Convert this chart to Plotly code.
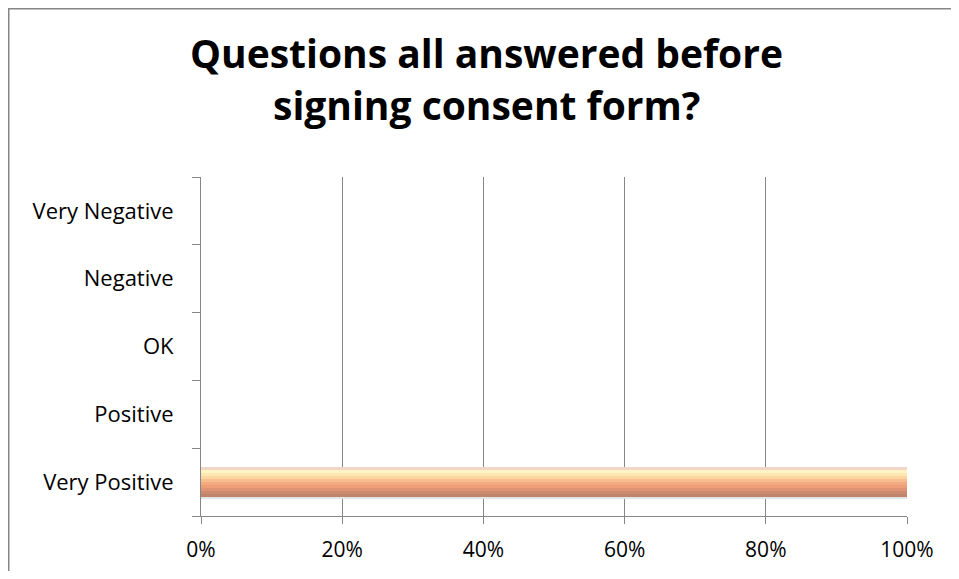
import plotly.graph_objects as go

categories = ["Very Positive", "Positive", "OK", "Negative", "Very Negative"]
values = [100, 0, 0, 0, 0]
x_ticks = [0, 20, 40, 60, 80, 100]
x_tick_labels = ["0%", "20%", "40%", "60%", "80%", "100%"]
title_lines = ["Questions all answered before", "signing consent form?"]

# gradient strips for the bar (top to bottom)
strip_colors = ["#F0D6C6", "#FFF4C4", "#FFE8B2", "#FCD6A0", "#F8BE8E",
                "#F4A97E", "#EE9E76", "#DE9474", "#CC8B70", "#BE846C"]

# page body has an 8px margin on every side, so the figure is sized to fit the window
W, H = 943, 563
ML, MR, MT, MB = 193, 44, 169, 55
PW, PH = W - ML - MR, H - MT - MB

FONT = "Open Sans, Lato, sans-serif"
bar_width = 0.443
n = len(strip_colors)
sw = bar_width / n

fig = go.Figure()
# soft shadow below bar
fig.add_trace(go.Bar(
    y=categories, x=values, orientation="h",
    width=sw * 0.5, offset=-bar_width / 2 - sw * 0.5,
    marker=dict(color="#E4E4E4", line=dict(width=0)),
    hoverinfo="skip", showlegend=False,
))
for i, c in enumerate(strip_colors):
    off = bar_width / 2 - (i + 1) * sw
    fig.add_trace(go.Bar(
        y=categories, x=values, orientation="h",
        width=sw * 1.02, offset=off,
        marker=dict(color=c, line=dict(width=0)),
        showlegend=False,
        hovertemplate="%{y}: %{x}%<extra></extra>",
    ))

def px_x(fx):
    return (fx - ML) / PW

def px_y(fy):
    return (H - MB - fy) / PH

axis_col = "#868686"
title_y = [44, 97]  # figure-pixel centres of the two title lines
annotations = [
    dict(text=t, xref="paper", yref="paper", x=px_x(478), y=px_y(yy),
         xanchor="center", yanchor="middle", showarrow=False,
         font=dict(family=FONT, size=39, color="#000000", weight="bold"))
    for t, yy in zip(title_lines, title_y)
]

fig.update_layout(
    width=W, height=H,
    margin=dict(l=ML, r=MR, t=MT, b=MB, autoexpand=False),
    paper_bgcolor="white", plot_bgcolor="white",
    barmode="overlay",
    showlegend=False,
    font=dict(family=FONT, color="#000000"),
    annotations=annotations,
    xaxis=dict(
        range=[0, 100], tickvals=x_ticks, ticktext=x_tick_labels,
        showgrid=True, gridcolor=axis_col, gridwidth=1,
        showline=True, linecolor=axis_col, linewidth=1,
        ticks="outside", ticklen=7, tickcolor=axis_col,
        tickfont=dict(size=21, color="#000000"),
        ticklabelstandoff=8, automargin=False,
        zeroline=False, fixedrange=True,
    ),
    yaxis=dict(
        type="category", categoryorder="array", categoryarray=categories,
        showgrid=False,
        showline=True, linecolor=axis_col, linewidth=1,
        ticks="outside", ticklen=8, tickcolor=axis_col, tickson="boundaries",
        tickfont=dict(size=22, color="#000000"),
        ticklabelstandoff=22, automargin=False,
        fixedrange=True,
    ),
    shapes=[
        dict(type="line", xref="paper", yref="paper",
             x0=px_x(0.75), x1=px_x(0.75), y0=px_y(H + 30), y1=px_y(0),
             line=dict(color=axis_col, width=1.5), layer="below"),
        dict(type="line", xref="paper", yref="paper",
             x0=px_x(0), x1=px_x(W + 30), y0=px_y(0.75), y1=px_y(0.75),
             line=dict(color=axis_col, width=1.5), layer="below"),
    ],
)

fig.write_html("out.html")
